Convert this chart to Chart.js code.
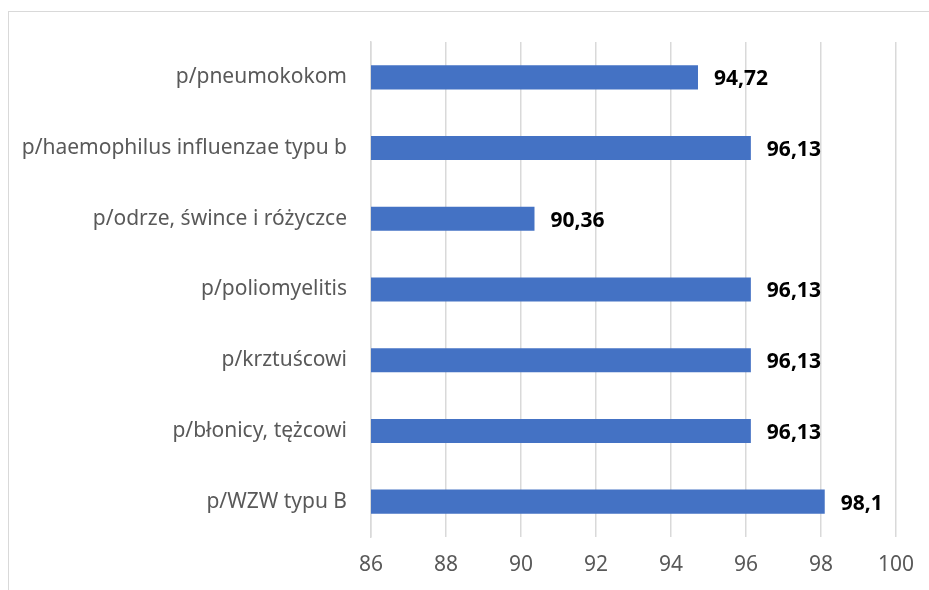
<!DOCTYPE html>
<html>
<head>
<meta charset="utf-8">
<script src="https://cdn.jsdelivr.net/npm/chart.js@4"></script>
<style>
    html, body { margin: 0; padding: 0; background: #fff; overflow: hidden; }
    #wrap { position: relative; width: 929px; height: 590px; }
    #ramka { position: absolute; left: 8px; top: 11px; width: 1000px; height: 1000px; border: 1px solid #d9d9d9; }
    canvas { position: absolute; left: 0; top: 0; }
</style>
</head>
<body>
<div id="wrap">
    <div id="ramka"></div>
    <canvas id="mijnGrafiek" width="929" height="590"></canvas>
</div>
<script>
// dane z wykresu
const kategorie = [
    'p/pneumokokom',
    'p/haemophilus influenzae typu b',
    'p/odrze, śwince i różyczce',
    'p/poliomyelitis',
    'p/krztuścowi',
    'p/błonicy, tężcowi',
    'p/WZW typu B'
];
const wartosci = [94.72, 96.13, 90.36, 96.13, 96.13, 96.13, 98.1];
const osMin = 86;
const osMax = 100;
const osKrok = 2;

const czcionka = "'Noto Sans', sans-serif";

// etykiety z wartosciami przy slupkach
const etykietyPlugin = {
    id: 'etykiety',
    afterDatasetsDraw(chart) {
        const ctx = chart.ctx;
        const meta = chart.getDatasetMeta(0);
        ctx.save();
        ctx.font = "bold 21px " + czcionka;
        ctx.fillStyle = '#000';
        ctx.textAlign = 'left';
        ctx.textBaseline = 'middle';
        meta.data.forEach((bar, i) => {
            const txt = String(wartosci[i]).replace('.', ',');
            ctx.fillText(txt, bar.x + 16, bar.y + 2);
        });
        ctx.restore();
    }
};

const ctx = document.getElementById('mijnGrafiek').getContext('2d');
new Chart(ctx, {
    type: 'bar',
    data: {
        labels: kategorie,
        datasets: [{
            data: wartosci,
            backgroundColor: '#4472C4',
            borderWidth: 0,
            barPercentage: 0.68,
            categoryPercentage: 0.5
        }]
    },
    options: {
        indexAxis: 'y',
        responsive: false,
        animation: false,
        layout: { padding: { top: 42, right: 33, left: 0, bottom: 0 } },
        plugins: {
            legend: { display: false },
            tooltip: { enabled: false }
        },
        scales: {
            x: {
                min: osMin,
                max: osMax,
                ticks: {
                    stepSize: osKrok,
                    color: '#595959',
                    font: { family: czcionka, size: 21 },
                    padding: 15
                },
                grid: { color: '#d9d9d9', lineWidth: 1.5, drawTicks: false },
                border: { display: false },
                afterFit(scale) { scale.height = 53; }
            },
            y: {
                ticks: {
                    color: '#595959',
                    font: { family: czcionka, size: 21 },
                    padding: 24
                },
                grid: { display: false, drawTicks: false },
                border: { color: '#d9d9d9', width: 1.5 },
                afterFit(scale) { scale.width = 371; }
            }
        }
    },
    plugins: [etykietyPlugin]
});
</script>
</body>
</html>
